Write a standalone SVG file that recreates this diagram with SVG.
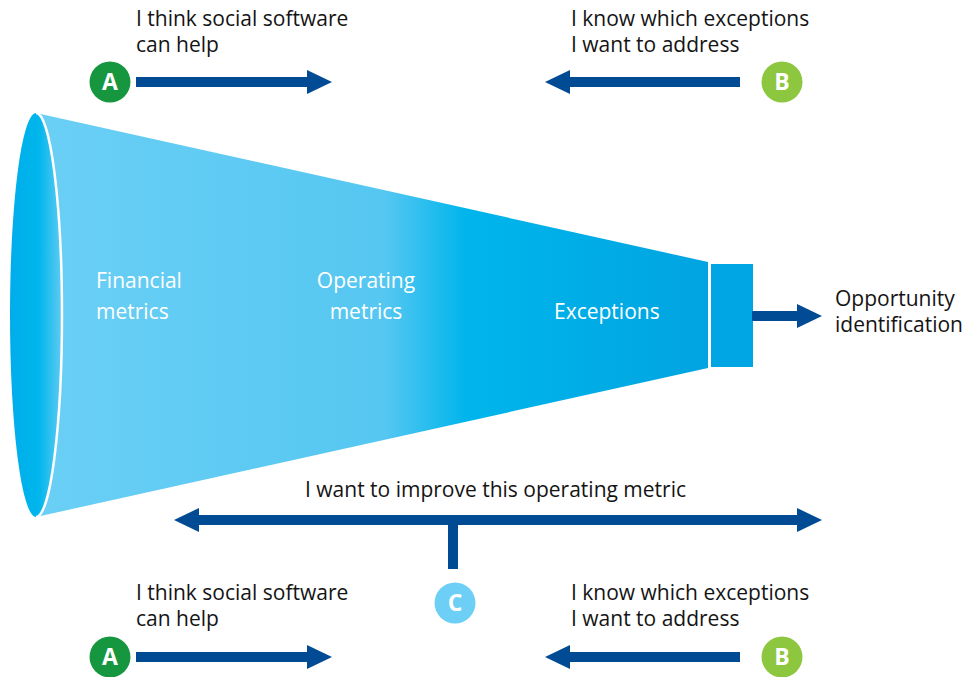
<svg xmlns="http://www.w3.org/2000/svg" width="968" height="677" viewBox="0 0 968 677">
<defs>
<linearGradient id="bodyGrad" gradientUnits="userSpaceOnUse" x1="36" y1="0" x2="708" y2="0">
<stop offset="0" stop-color="#6BCFF5"/>
<stop offset="0.52" stop-color="#55C7F1"/>
<stop offset="0.64" stop-color="#00B5EC"/>
<stop offset="1" stop-color="#00A4E1"/>
</linearGradient>
<linearGradient id="rimGrad" gradientUnits="userSpaceOnUse" x1="10" y1="0" x2="62" y2="0">
<stop offset="0" stop-color="#00ADEB"/>
<stop offset="0.55" stop-color="#00B6EC"/>
<stop offset="1" stop-color="#5FCBF3"/>
</linearGradient>
<marker id="head" viewBox="0 0 25 24" refX="0" refY="12" markerWidth="25" markerHeight="24" markerUnits="userSpaceOnUse" orient="auto-start-reverse">
<path d="M0,0 L25,12 L0,24 z" fill="#004B93"/>
</marker>
<style>
.t{font-family:"Open Sans","Liberation Sans",sans-serif;font-size:21px;fill:#141414}
.w{font-family:"Open Sans","Liberation Sans",sans-serif;font-size:21px;fill:#ffffff}
.lt{font-family:"Open Sans","Liberation Sans",sans-serif;font-size:23px;font-weight:bold;fill:#ffffff;text-anchor:middle}
.ar{stroke:#004B93;stroke-width:10;fill:none}
</style>
</defs>

<g id="funnel">
<polygon points="36,113 708,262 708,368 36,517" fill="url(#bodyGrad)"/>
<ellipse cx="36" cy="315" rx="26" ry="202" fill="url(#rimGrad)"/>
<path d="M36,113 A26,202 0 0 1 36,517" fill="none" stroke="#ffffff" stroke-width="2.5"/>
<rect x="711" y="264" width="42" height="103" fill="#00A6E3"/>
<text class="w" x="96" y="288">Financial</text>
<text class="w" x="96" y="319">metrics</text>
<text class="w" x="366" y="288" text-anchor="middle">Operating</text>
<text class="w" x="366" y="319" text-anchor="middle">metrics</text>
<text class="w" x="554" y="319">Exceptions</text>
</g>

<g id="connectors">
<line class="ar" x1="136" y1="82" x2="307" y2="82" marker-end="url(#head)"/>
<line class="ar" x1="740" y1="82" x2="570" y2="82" marker-end="url(#head)"/>
<line class="ar" x1="752" y1="316" x2="797" y2="316" marker-end="url(#head)"/>
<line class="ar" x1="199" y1="520" x2="797" y2="520" marker-start="url(#head)" marker-end="url(#head)"/>
<line class="ar" x1="453" y1="520" x2="453" y2="569"/>
<line class="ar" x1="136" y1="657" x2="307" y2="657" marker-end="url(#head)"/>
<line class="ar" x1="740" y1="657" x2="570" y2="657" marker-end="url(#head)"/>
</g>

<g id="nodeA-top">
<circle cx="110" cy="82" r="20.5" fill="#15963F"/>
<text class="lt" x="110" y="90">A</text>
<text class="t" x="136" y="26">I think social software</text>
<text class="t" x="136" y="52">can help</text>
</g>

<g id="nodeB-top">
<circle cx="782" cy="82" r="20.5" fill="#8DC63F"/>
<text class="lt" x="782" y="90">B</text>
<text class="t" x="571" y="26">I know which exceptions</text>
<text class="t" x="571" y="52">I want to address</text>
</g>

<g id="output">
<text class="t" x="835" y="306">Opportunity</text>
<text class="t" x="835" y="332">identification</text>
</g>

<g id="nodeC">
<text class="t" x="305" y="497">I want to improve this operating metric</text>
<circle cx="455" cy="603" r="20.5" fill="#6DCFF6"/>
<text class="lt" x="455" y="611">C</text>
</g>

<g id="nodeA-bottom">
<circle cx="110" cy="657" r="20.5" fill="#15963F"/>
<text class="lt" x="110" y="665">A</text>
<text class="t" x="136" y="600">I think social software</text>
<text class="t" x="136" y="626">can help</text>
</g>

<g id="nodeB-bottom">
<circle cx="782" cy="657" r="20.5" fill="#8DC63F"/>
<text class="lt" x="782" y="665">B</text>
<text class="t" x="571" y="600">I know which exceptions</text>
<text class="t" x="571" y="626">I want to address</text>
</g>
</svg>
